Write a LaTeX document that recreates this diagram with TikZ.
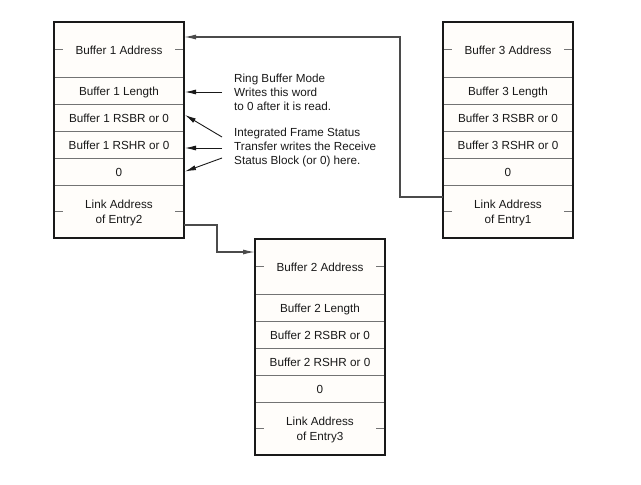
\documentclass[tikz,border=0pt]{standalone}
\usepackage{fontspec}
\setmainfont{Liberation Sans}
\usetikzlibrary{arrows.meta,positioning,fit}
\definecolor{boxfill}{RGB}{255,253,250}
\definecolor{ink}{RGB}{25,25,25}
\definecolor{divline}{RGB}{115,115,115}
\definecolor{connline}{RGB}{75,75,75}
\tikzset{
  cell/.style={draw=divline, line width=0.8pt, minimum width=130pt, inner sep=0pt, outer sep=0pt,
    font=\fontsize{11.7}{15}\selectfont, text=ink, align=center, fill=boxfill},
  addrcell/.style={cell, minimum height=55pt},
  rowcell/.style={cell, minimum height=27pt},
  linkcell/.style={cell, minimum height=53pt},
  outline/.style={draw=ink, line width=2pt, inner sep=0pt, outer sep=0pt},
  celltick/.style={draw=divline, line width=0.8pt},
  conn/.style={draw=connline, line width=1.3pt, -{Latex[length=12pt,width=5pt]}},
  notearrow/.style={draw=ink, line width=0.9pt, -{Latex[length=11pt,width=5pt]}},
  note/.style={font=\fontsize{11.7}{14}\selectfont, align=left, text=ink, inner sep=0pt, anchor=north west}
}
\newcommand\sideticks[1]{\draw[celltick] (#1.west) -- ++(9,0); \draw[celltick] (#1.east) -- ++(-9,0);}
\newcommand\ctext[1]{\raisebox{-1.8pt}[\height][\depth]{\begin{tabular}{@{}c@{}}#1\end{tabular}}}
\begin{document}
\begin{tikzpicture}[x=1pt,y=-1pt]
\useasboundingbox (0,0) rectangle (641,485);
% Box 1
\node[addrcell, anchor=north] (b1a) at (119,22) {\ctext{Buffer 1 Address}};
\node[rowcell, below=0pt of b1a] (b1l) {\ctext{Buffer 1 Length}};
\node[rowcell, below=0pt of b1l] (b1r) {\ctext{Buffer 1 RSBR or 0}};
\node[rowcell, below=0pt of b1r] (b1h) {\ctext{Buffer 1 RSHR or 0}};
\node[rowcell, below=0pt of b1h] (b1z) {\ctext{0}};
\node[linkcell, below=0pt of b1z] (b1k) {\ctext{Link Address\\of Entry2}};
\sideticks{b1a}\sideticks{b1k}
\node[outline, fit=(b1a)(b1k)] (b1) {};
% Box 2
\node[addrcell, anchor=north] (b2a) at (320,239) {\ctext{Buffer 2 Address}};
\node[rowcell, below=0pt of b2a] (b2l) {\ctext{Buffer 2 Length}};
\node[rowcell, below=0pt of b2l] (b2r) {\ctext{Buffer 2 RSBR or 0}};
\node[rowcell, below=0pt of b2r] (b2h) {\ctext{Buffer 2 RSHR or 0}};
\node[rowcell, below=0pt of b2h] (b2z) {\ctext{0}};
\node[linkcell, below=0pt of b2z] (b2k) {\ctext{Link Address\\of Entry3}};
\sideticks{b2a}\sideticks{b2k}
\node[outline, fit=(b2a)(b2k)] (b2) {};
% Box 3
\node[addrcell, anchor=north] (b3a) at (508,22) {\ctext{Buffer 3 Address}};
\node[rowcell, below=0pt of b3a] (b3l) {\ctext{Buffer 3 Length}};
\node[rowcell, below=0pt of b3l] (b3r) {\ctext{Buffer 3 RSBR or 0}};
\node[rowcell, below=0pt of b3r] (b3h) {\ctext{Buffer 3 RSHR or 0}};
\node[rowcell, below=0pt of b3h] (b3z) {\ctext{0}};
\node[linkcell, below=0pt of b3z] (b3k) {\ctext{Link Address\\of Entry1}};
\sideticks{b3a}\sideticks{b3k}
\node[outline, fit=(b3a)(b3k)] (b3) {};
% Links
\draw[conn] ([yshift=-13.5pt]b1k.east) -- ++(33,0) |- ([yshift=14.5pt]b2a.west);
\draw[conn] ([yshift=14.5pt]b3k.west) -- ++(-43,0) |- ([yshift=12.5pt]b1a.east);
% Notes
\node[note] (note1) at (234,73.5) {Ring Buffer Mode\\Writes this word\\to 0 after it is read.};
\node[note] (note2) at (234,127.5) {Integrated Frame Status\\Transfer writes the Receive\\Status Block (or 0) here.};
\coordinate (t1) at (222,92);
\coordinate (t2) at (222,137);
\coordinate (t3) at (222,148);
\coordinate (t4) at (222,158);
\draw[notearrow] (t1) -- ([yshift=-1.5pt,xshift=1pt]b1l.east);
\draw[notearrow] (t2) -- ([yshift=2.5pt,xshift=1pt]b1r.east);
\draw[notearrow] (t3) -- ([yshift=-3.5pt,xshift=1pt]b1h.east);
\draw[notearrow] (t4) -- ([xshift=1pt]b1z.east);
\end{tikzpicture}
\end{document}
